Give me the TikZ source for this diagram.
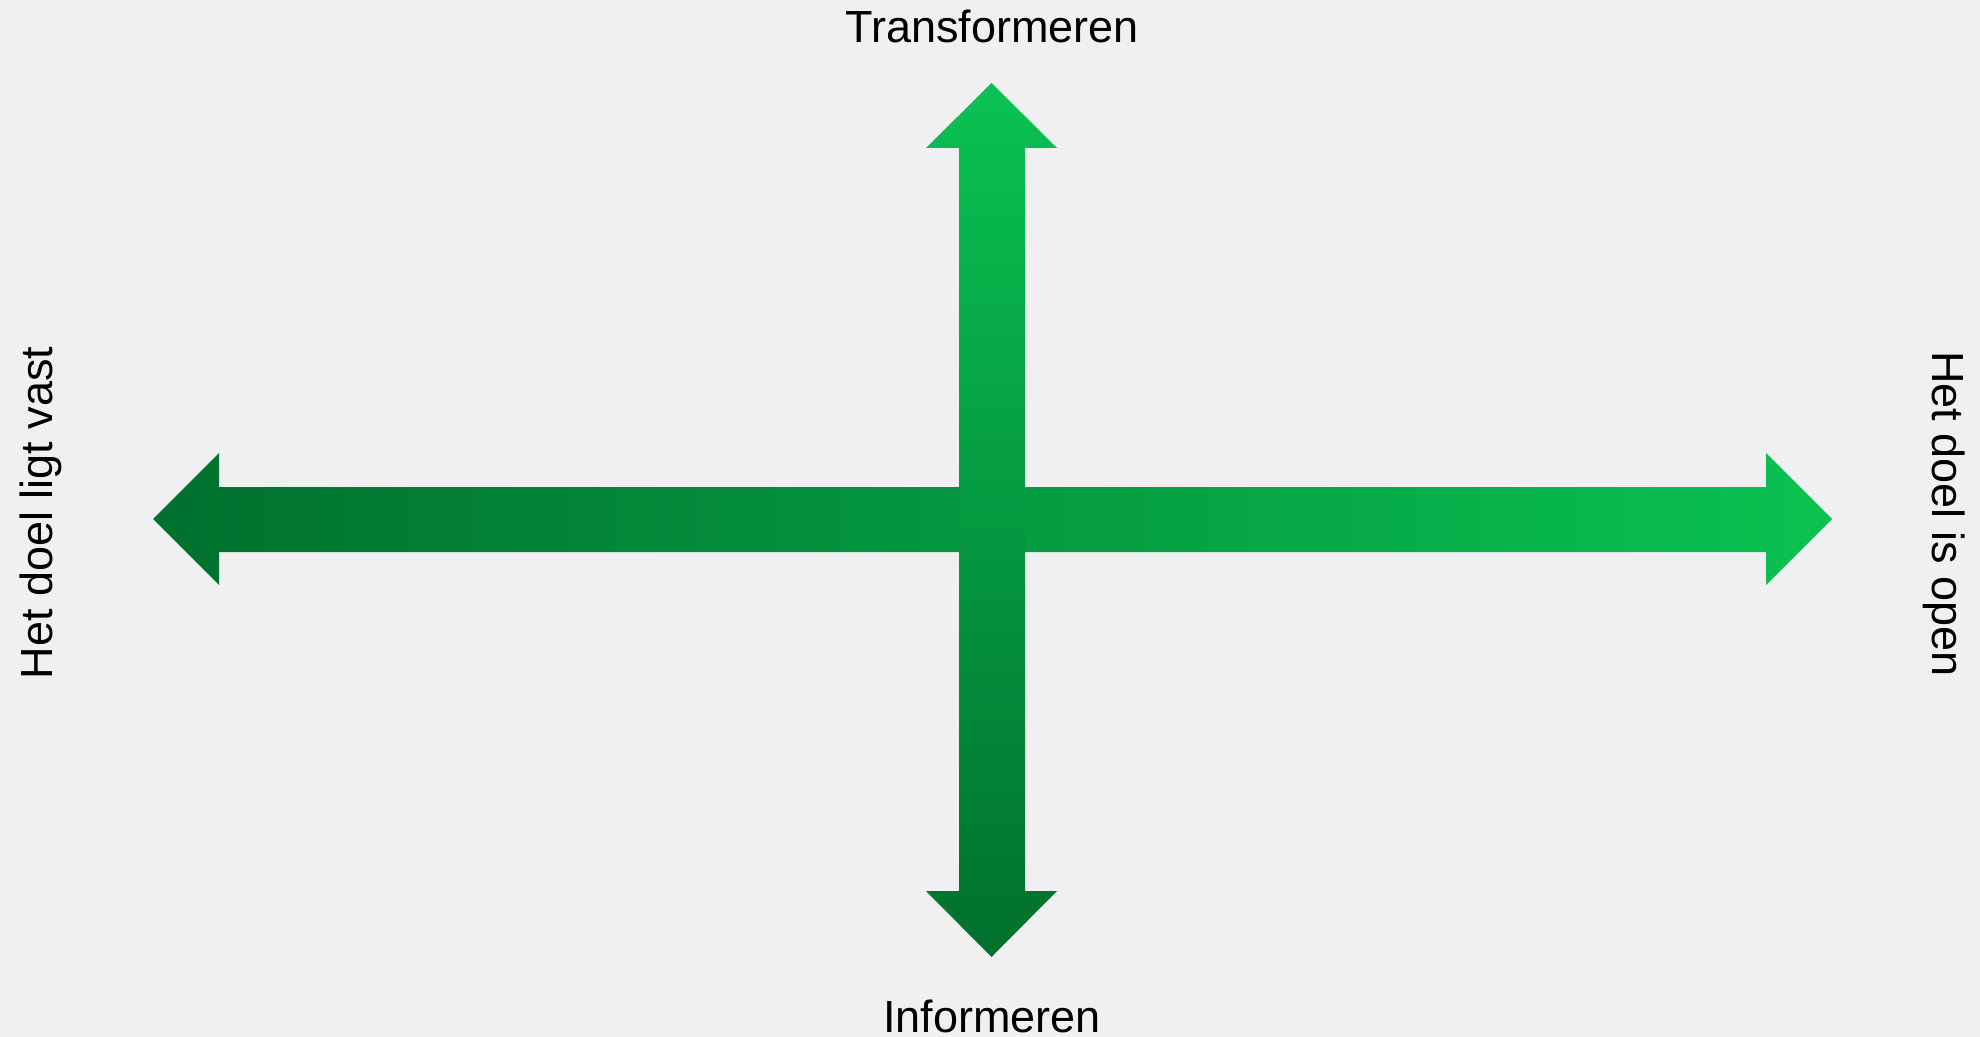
\documentclass[tikz,border=0pt]{standalone}
\usepackage{fontspec}
\setmainfont{Liberation Sans}
\definecolor{bg}{RGB}{240,240,242}
\definecolor{dk}{RGB}{0,112,46}
\definecolor{lt}{RGB}{10,194,82}
\begin{document}
\begin{tikzpicture}[x=0.5pt,y=-0.5pt,
  lbl/.style={font=\fontsize{22.5}{26}\selectfont,text=black,inner sep=0pt,anchor=base}]
\useasboundingbox[fill=bg] (0,0) rectangle (1980,1037);
% horizontal double arrow
\shade[left color=dk,right color=lt]
  (153,519) -- (219,453) -- (219,487) -- (1766,487) -- (1766,453) -- (1832,519)
  -- (1766,585) -- (1766,552) -- (219,552) -- (219,585) -- cycle;
% vertical double arrow
\shade[top color=lt,bottom color=dk]
  (991.5,83) -- (1057,148) -- (1025,148) -- (1025,891) -- (1057,891) -- (991.5,957)
  -- (926,891) -- (959,891) -- (959,148) -- (926,148) -- cycle;
\node[lbl] (top) at (992,43) {Transformeren};
\node[lbl] (bottom) at (992,1032) {Informeren};
\node[lbl,rotate=90] (left) at (52,513) {Het doel ligt vast};
\node[lbl,rotate=-90] (right) at (1932,514) {Het doel is open};
\end{tikzpicture}
\end{document}
